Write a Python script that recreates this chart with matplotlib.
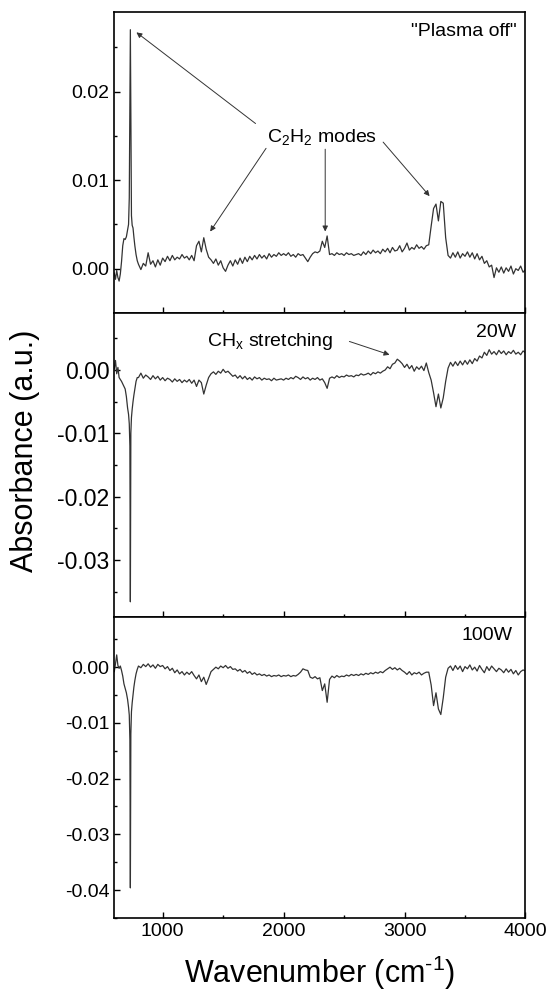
import numpy as np
import matplotlib
matplotlib.use("Agg")
import matplotlib.pyplot as plt
from matplotlib.ticker import MultipleLocator, FormatStrFormatter

plt.rcParams['font.family'] = ['Liberation Sans', 'DejaVu Sans']
plt.rcParams['mathtext.fontset'] = 'custom'
plt.rcParams['mathtext.rm'] = 'Liberation Sans'
plt.rcParams['mathtext.it'] = 'Liberation Sans:italic'
plt.rcParams['axes.unicode_minus'] = False

# Wavenumbers (cm-1): fine points around the 730 cm-1 band, then a 20 cm-1 grid
low_wn = [600, 610, 620, 630, 640, 650, 660, 670, 680, 690, 700, 710,
          718, 724, 729, 733, 737, 742, 748, 755, 762, 770, 780, 790]
grid_wn = list(range(800, 4001, 20))

# Absorbance values in units of 1e-3
off_low = [-0.5, -1.2, -0.2, -1.0, -1.4, -0.6, 0.8, 2.6, 3.4, 3.3, 3.6, 4.4,
           5.0, 8.0, 18.0, 27.0, 17.0, 6.0, 4.9, 4.6, 3.6, 2.6, 1.6, 0.9]
off_grid = [
    0.5, -0.1, 0.6, 0.3, 1.8, 0.5, 0.9, 0.2, 1.0, 0.4,      # 800
    1.2, 0.8, 1.4, 0.9, 1.5, 1.0, 1.3, 1.1, 1.6, 1.2,       # 1000
    1.4, 1.0, 1.5, 0.9, 2.6, 3.1, 1.9, 3.5, 2.2, 1.3,       # 1200
    1.0, 0.6, 1.1, 0.4, 0.9, 0.1, -0.3, 0.4, 0.9, 0.3,      # 1400
    1.0, 0.5, 1.2, 0.6, 1.3, 0.8, 1.4, 1.0, 1.5, 1.1,       # 1600
    1.6, 1.2, 1.5, 1.1, 1.7, 1.3, 1.6, 1.4, 1.8, 1.5,       # 1800
    1.7, 1.5, 1.8, 1.4, 1.6, 1.3, 1.7, 1.5, 1.6, 1.2,       # 2000
    0.8, 1.3, 1.7, 1.9, 1.8, 2.0, 3.1, 2.4, 3.7, 1.6,       # 2200
    1.7, 1.5, 1.8, 1.6, 1.7, 1.5, 1.8, 1.6, 1.7, 1.5,       # 2400
    1.6, 1.7, 1.5, 1.9, 1.6, 2.0, 1.7, 2.1, 1.8, 2.0,       # 2600
    1.7, 2.2, 1.9, 2.3, 1.8, 2.4, 2.0, 2.1, 2.6, 1.9,       # 2800
    2.3, 2.9, 2.1, 2.4, 2.2, 2.7, 2.3, 2.5, 2.2, 2.6,       # 3000
    2.7, 4.8, 6.8, 7.3, 5.4, 7.6, 7.4, 3.5, 1.5, 1.2,       # 3200
    1.8, 1.3, 1.9, 1.2, 1.7, 1.4, 1.9, 1.3, 1.8, 1.1,       # 3400
    1.7, 1.0, 1.4, 0.6, 0.9, 0.2, 0.4, -1.0, 0.1, -0.4,     # 3600
    0.2, -0.5, 0.1, -0.3, 0.3, -0.6, 0.0, -0.2, 0.3, -0.4,  # 3800
    -0.1]

w20_low = [0.2, 1.5, -0.6, 0.4, -1.2, -1.5, -1.8, -2.2, -2.6, -3.0, -4.2, -6.0,
           -7.0, -8.5, -12.0, -36.6, -10.0, -7.5, -6.2, -5.0, -4.0, -3.0, -1.8, -1.2]
w20_grid = [
    -1.2, -0.5, -1.3, -0.8, -1.1, -1.5, -0.9, -1.4, -1.0, -1.6,   # 800
    -1.2, -1.7, -1.3, -1.5, -1.9, -1.4, -1.8, -1.5, -2.0, -1.6,   # 1000
    -1.9, -1.5, -2.1, -1.6, -2.6, -1.6, -2.0, -3.8, -2.4, -1.2,   # 1200
    -0.6, -0.3, -0.7, -0.2, -0.5, 0.1, -0.4, -0.2, -0.6, -1.0,    # 1400
    -0.8, -1.3, -0.9, -1.4, -1.0, -1.5, -1.2, -1.6, -1.1, -1.4,   # 1600
    -1.2, -1.6, -1.3, -1.5, -1.4, -1.7, -1.3, -1.6, -1.5, -1.4,   # 1800
    -1.6, -1.3, -1.5, -1.2, -1.4, -1.0, -1.2, -1.5, -1.1, -1.4,   # 2000
    -1.2, -1.6, -1.3, -1.5, -1.2, -1.6, -1.4, -2.0, -2.9, -1.3,   # 2200
    -1.1, -1.3, -0.9, -1.2, -1.0, -1.1, -0.8, -1.0, -0.9, -1.1,   # 2400
    -0.8, -0.9, -0.6, -0.8, -0.7, -0.5, -0.8, -0.4, -0.6, -0.3,   # 2600
    -0.5, -0.2, 0.0, 0.5, 0.2, 0.9, 1.1, 1.7, 1.4, 1.0,           # 2800
    0.4, 0.9, 0.2, 0.7, -0.2, 0.5, 0.1, 0.6, -0.1, 1.1,           # 3000
    -0.4, -1.6, -3.6, -5.8, -3.8, -6.0, -4.4, -1.8, 0.3, 1.2,     # 3200
    0.6, 1.3, 0.7, 1.4, 0.8, 1.5, 0.9, 1.6, 1.0, 1.8,             # 3400
    1.4, 2.2, 1.9, 2.8, 2.3, 3.2, 2.5, 2.9, 2.4, 3.1,             # 3600
    2.6, 3.0, 2.4, 2.9, 2.6, 3.1, 2.5, 2.8, 2.4, 3.0,             # 3800
    2.7]

w100_low = [-0.8, 0.6, 2.2, 0.3, -0.2, 0.2, -0.6, -1.6, -3.0, -3.8, -4.6, -5.8,
            -7.2, -8.6, -13.0, -39.6, -12.0, -8.0, -6.4, -5.0, -3.6, -2.4, -1.2, -0.4]
w100_grid = [
    0.2, -0.1, 0.5, 0.1, 0.6, 0.0, 0.4, -0.2, 0.5, 0.1,           # 800
    0.3, -0.3, 0.1, -0.6, -0.2, -1.0, -0.5, -1.2, -0.8, -1.4,     # 1000
    -0.9, -1.3, -0.8, -1.5, -2.1, -1.4, -2.6, -1.8, -3.1, -2.0,   # 1200
    -0.8, -0.4, 0.0, -0.3, 0.2, -0.1, 0.3, -0.2, 0.1, -0.4,       # 1400
    -0.3, -0.7, -0.4, -0.9, -0.6, -1.1, -0.8, -1.3, -1.0, -1.4,   # 1600
    -1.2, -1.5, -1.3, -1.6, -1.4, -1.7, -1.5, -1.6, -1.4, -1.7,   # 1800
    -1.5, -1.6, -1.4, -1.7, -1.5, -1.6, -1.3, -0.9, -0.3, -0.5,   # 2000
    -0.6, -1.8, -2.0, -1.7, -2.1, -1.9, -4.2, -3.0, -6.3, -2.2,   # 2200
    -1.6, -1.9, -1.5, -1.8, -1.6, -1.7, -1.4, -1.6, -1.3, -1.5,   # 2400
    -1.3, -1.5, -1.2, -1.4, -1.1, -1.3, -1.0, -1.2, -0.9, -1.1,   # 2600
    -0.8, -1.0, -0.6, -0.3, 0.0, -0.4, -0.1, -0.5, -0.2, -0.6,    # 2800
    -0.9, -1.3, -0.8, -1.4, -1.0, -1.2, -0.9, -1.4, -1.1, -0.9,   # 3000
    -0.9, -3.2, -6.9, -4.6, -7.5, -8.5, -5.5, -1.8, -0.2, 0.2,    # 3200
    -0.6, 0.3, -0.4, 0.2, -0.8, 0.1, -0.3, 0.4, -0.5, 0.0,        # 3400
    -0.7, 0.3, -0.4, -1.0, 0.1, -0.6, 0.2, -0.3, -0.8, -0.2,      # 3600
    -0.5, -1.0, -0.3, -0.9, -0.4, -1.2, -0.6, -1.4, -0.8, -0.5,   # 3800
    -0.7]

wn = np.array(low_wn + grid_wn)
spectra = [np.array(off_low + off_grid) / 1000,
           np.array(w20_low + w20_grid) / 1000,
           np.array(w100_low + w100_grid) / 1000]
labels = ['"Plasma off"', '20W', '100W']
ylims = [(-0.005, 0.029), (-0.039, 0.009), (-0.045, 0.009)]
tick_size = [14, 16.5, 14]

fig = plt.figure(figsize=(5.51, 9.91), dpi=100)
left, width = 0.2074, 0.7463
rects = [(left, 0.6842, width, 0.3037),
         (left, 0.3774, width, 0.3068),
         (left, 0.0737, width, 0.3037)]

axes = []
for i, r in enumerate(rects):
    ax = fig.add_axes(r)
    ax.plot(wn, spectra[i], color='#333333', lw=0.9)
    ax.set_xlim(600, 4000)
    ax.set_ylim(*ylims[i])
    ax.xaxis.set_major_locator(MultipleLocator(1000))
    ax.xaxis.set_minor_locator(MultipleLocator(500))
    ax.yaxis.set_major_locator(MultipleLocator(0.01))
    ax.yaxis.set_minor_locator(MultipleLocator(0.005))
    ax.yaxis.set_major_formatter(FormatStrFormatter('%.2f'))
    ax.tick_params(which='both', direction='in', top=False, right=False,
                   labelsize=tick_size[i], width=1.0)
    ax.tick_params(which='major', length=4.5)
    ax.tick_params(which='minor', length=2.5)
    for s in ax.spines.values():
        s.set_linewidth(1.2)
    if i < 2:
        ax.tick_params(labelbottom=False)
    axes.append(ax)

txt_x = [0.978, 0.978, 0.969]
txt_y = [0.934, 0.935, 0.94]
for i, ax in enumerate(axes):
    ax.text(txt_x[i], txt_y[i], labels[i], transform=ax.transAxes,
            ha='right', va='center', fontsize=14)

arrow = dict(arrowstyle='-|>', lw=0.7, color='#333333', mutation_scale=8,
             shrinkA=0, shrinkB=0)
ax = axes[0]
ax.text(2317, 0.0149, 'C$_2$H$_2$ modes', ha='center', va='center', fontsize=14)
for (x0, y0), (x1, y1) in [((1768, 0.0164), (783, 0.0267)),
                           ((1855, 0.0136), (1393, 0.0042)),
                           ((2344, 0.0135), (2344, 0.0042)),
                           ((2823, 0.0143), (3207, 0.0082))]:
    ax.annotate('', xy=(x1, y1), xytext=(x0, y0), arrowprops=arrow)

ax = axes[1]
ax.text(1890, 0.0045, r'CH$_\mathrm{x}$ stretching', ha='center', va='center',
        fontsize=14)
ax.annotate('', xy=(2876, 0.0024), xytext=(2544, 0.0045), arrowprops=arrow)

fig.text(0.045, 0.545, 'Absorbance (a.u.)', rotation=90, ha='center',
         va='center', fontsize=22)
fig.text(0.58, 0.018, 'Wavenumber (cm$^{\\mathrm{\u2010}1}$)', ha='center',
         va='center', fontsize=22)

fig.savefig('out.png', dpi=100)
